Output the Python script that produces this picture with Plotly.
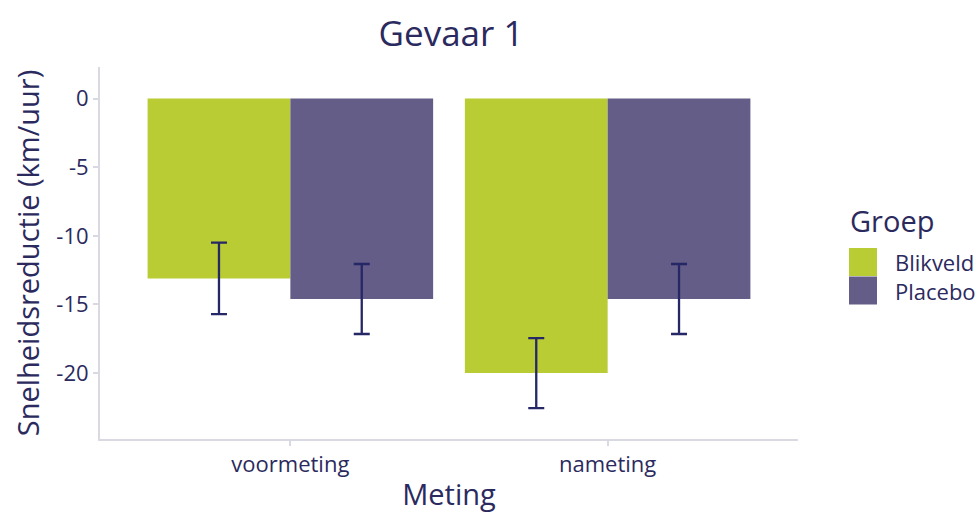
import plotly.graph_objects as go

# Mean speed reduction (km/uur) per measurement moment and group
metingen = ["voormeting", "nameting"]
groepen = ["Blikveld", "Placebo"]
blikveld = [-13.1, -20.0]
placebo = [-14.6, -14.6]
blikveld_se = [2.6, 2.55]
placebo_se = [2.55, 2.55]
y_ticks = [0, -5, -10, -15, -20]

kleuren = {"Blikveld": "#B9CC33", "Placebo": "#635D87"}
tekst = "#2B2A5E"
font_family = "Open Sans, Lato, sans-serif"

fig = go.Figure()
for naam, waarden, fout in [("Blikveld", blikveld, blikveld_se),
                            ("Placebo", placebo, placebo_se)]:
    fig.add_trace(go.Bar(
        name=naam, x=metingen, y=waarden,
        marker=dict(color=kleuren[naam], line=dict(width=0)),
        error_y=dict(type="data", array=fout, visible=True,
                     color="#252766", thickness=2.3, width=8),
        showlegend=False,
    ))

# Plot area in pixels: x 100..798, y 67..439
L, R, T, B = 100, 798, 67, 439
W, H = 980, 513

def px(x):
    return (x - L) / (R - L)

def py(y):
    return (B - y) / (B - T)

shapes = []
annotations = [
    dict(text="Groep", x=px(848), y=py(220), xref="paper", yref="paper",
         xanchor="left", yanchor="middle", showarrow=False,
         font=dict(size=29, color=tekst, family=font_family)),
]
for i, naam in enumerate(groepen):
    top = 248 + i * 28.5
    shapes.append(dict(type="rect", xref="paper", yref="paper",
                       x0=px(849), x1=px(877), y0=py(top + 28), y1=py(top),
                       fillcolor=kleuren[naam], line=dict(width=0)))
    annotations.append(dict(text=naam, x=px(893), y=py(top + 14),
                            xref="paper", yref="paper",
                            xanchor="left", yanchor="middle", showarrow=False,
                            font=dict(size=22, color=tekst, family=font_family)))

fig.update_layout(
    width=W, height=H,
    margin=dict(l=L, r=W - R, t=T, b=H - B),
    barmode="group", bargap=0.1, bargroupgap=0,
    plot_bgcolor="white", paper_bgcolor="white",
    font=dict(family=font_family, color=tekst),
    title=dict(text="Gevaar 1", xref="container", x=451 / W, xanchor="center",
               y=1 - 34 / H, yanchor="middle",
               font=dict(size=35, color=tekst, family=font_family)),
    xaxis=dict(
        range=[-0.6, 1.6], showline=True, linecolor="#D9D9E3", linewidth=2,
        ticks="outside", ticklen=5, tickcolor="#D9D9E3", tickwidth=2,
        tickfont=dict(size=22, color=tekst), automargin=False,
        title=dict(text="Meting", font=dict(size=29, color=tekst), standoff=9),
        showgrid=False, zeroline=False,
    ),
    yaxis=dict(
        range=[-24.8, 2.3], showline=True, linecolor="#D9D9E3", linewidth=2,
        ticks="outside", ticklen=5, tickcolor="#D9D9E3", tickwidth=2,
        tickvals=y_ticks, ticktext=[str(v) for v in y_ticks],
        tickfont=dict(size=22, color=tekst), automargin=False,
        title=dict(text="Snelheidsreductie (km/uur)",
                   font=dict(size=29, color=tekst), standoff=8),
        showgrid=False, zeroline=False,
    ),
    shapes=shapes, annotations=annotations,
)

fig.write_html("out.html")
